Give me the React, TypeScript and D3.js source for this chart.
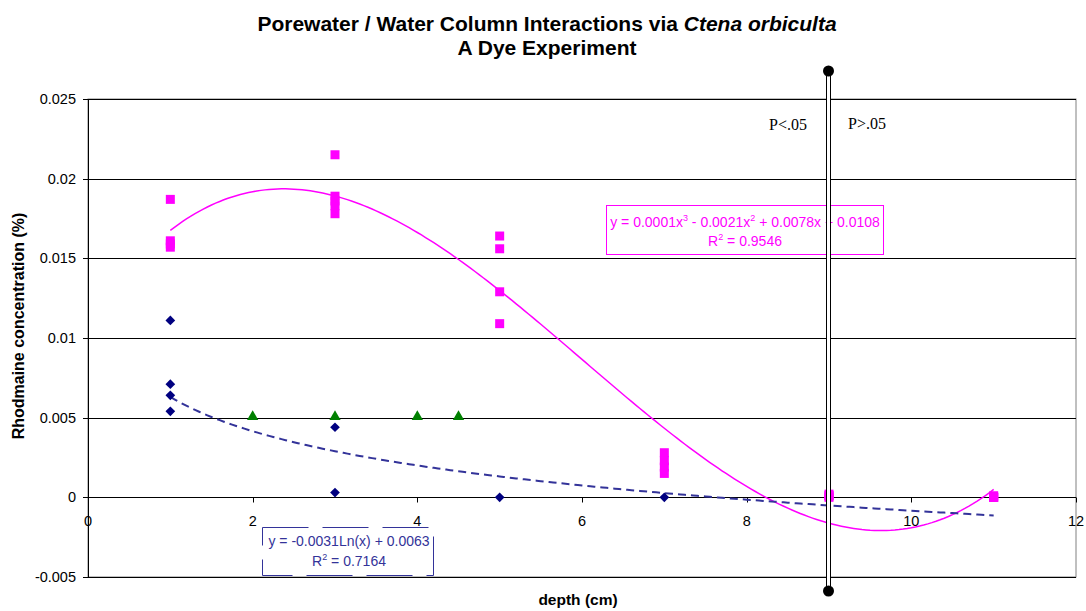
import React, { useRef, useEffect } from 'react';
import * as d3 from 'd3';

// pink squares (porewater), blue diamonds, green triangles
const pinkX = [1, 1, 1, 1, 3, 3, 3, 3, 3, 5, 5, 5, 5, 7, 7, 7, 7, 9, 9, 9, 9, 11, 11, 11, 11];
const pinkY = [0.0187, 0.0161, 0.0159, 0.0157, 0.0215, 0.0189, 0.0186, 0.0183, 0.0178,
  0.0164, 0.0156, 0.0129, 0.0109, 0.0028, 0.0023, 0.0019, 0.0015,
  0.0002, 0.0001, 0.0001, 0.0, 0.0001, 0.0, 0.0, 0.0];
const blueX = [1, 1, 1, 1, 3, 3, 5, 7];
const blueY = [0.0111, 0.0071, 0.0064, 0.0054, 0.0044, 0.0003, 0.0, 0.0];
const greenX = [2, 3, 4, 4.5];
const greenY = [0.005, 0.005, 0.005, 0.005];

// log trendline as given in the chart label
const logSlope = -0.0031;
const logIntercept = 0.0063;

const xTicks = [0, 2, 4, 6, 8, 10, 12];
const yTicks = [-0.005, 0, 0.005, 0.01, 0.015, 0.02, 0.025];

// least squares cubic fit (Excel polynomial trendline)
function cubicFit(xs: number[], ys: number[]): number[] {
  const n = 4;
  const A: number[][] = [];
  for (let i = 0; i < n; i++) {
    A.push(new Array(n + 1).fill(0));
    for (let j = 0; j < n; j++) {
      A[i][j] = d3.sum(xs, x => Math.pow(x, i + j));
    }
    A[i][n] = d3.sum(xs, (x, k) => Math.pow(x, i) * ys[k]);
  }
  for (let c = 0; c < n; c++) {
    let p = c;
    for (let r = c + 1; r < n; r++) if (Math.abs(A[r][c]) > Math.abs(A[p][c])) p = r;
    [A[c], A[p]] = [A[p], A[c]];
    for (let r = 0; r < n; r++) {
      if (r === c) continue;
      const f = A[r][c] / A[c][c];
      for (let k = c; k <= n; k++) A[r][k] -= f * A[c][k];
    }
  }
  return A.map((row, i) => row[n] / row[i]);
}

const App: React.FC = () => {
  const svgRef = useRef<SVGSVGElement>(null);

  useEffect(() => {
    document.body.style.margin = '0';
    if (!svgRef.current) return;
    const svg = d3.select(svgRef.current);
    svg.selectAll('*').remove();

    const left = 88, right = 1076, top = 99, bottom = 577;
    const x = d3.scaleLinear().domain([0, 12]).range([left, right]);
    const y = d3.scaleLinear().domain([-0.005, 0.025]).range([bottom, top]);
    const font = 'Arial, "Liberation Sans", sans-serif';
    const serif = '"Liberation Serif", "Times New Roman", serif';

    // plot area border
    svg.append('rect')
      .attr('x', left).attr('y', top)
      .attr('width', right - left).attr('height', bottom - top)
      .attr('fill', 'none').attr('stroke', '#808080').attr('stroke-width', 1);

    // gridlines
    svg.append('g').selectAll('line').data(yTicks).enter().append('line')
      .attr('x1', left).attr('x2', right)
      .attr('y1', d => Math.round(y(d)) + 0.5).attr('y2', d => Math.round(y(d)) + 0.5)
      .attr('stroke', '#000').attr('stroke-width', 1);

    // y axis
    svg.append('line')
      .attr('x1', left + 0.5).attr('x2', left + 0.5).attr('y1', top).attr('y2', bottom)
      .attr('stroke', '#000');
    svg.append('g').selectAll('line').data(yTicks).enter().append('line')
      .attr('x1', left - 5).attr('x2', left)
      .attr('y1', d => Math.round(y(d)) + 0.5).attr('y2', d => Math.round(y(d)) + 0.5)
      .attr('stroke', '#000');
    svg.append('g').selectAll('text').data(yTicks).enter().append('text')
      .attr('x', left - 12).attr('y', d => y(d) + 5)
      .attr('text-anchor', 'end').attr('font-family', font).attr('font-size', 14.5)
      .text(d => d === 0 ? '0' : String(+d.toFixed(3)));

    // x axis at y = 0
    const y0 = Math.round(y(0)) + 0.5;
    svg.append('g').selectAll('line').data(xTicks).enter().append('line')
      .attr('x1', d => Math.round(x(d)) + 0.5).attr('x2', d => Math.round(x(d)) + 0.5)
      .attr('y1', y0).attr('y2', y0 + 5)
      .attr('stroke', '#000');
    svg.append('g').selectAll('text').data(xTicks).enter().append('text')
      .attr('x', d => x(d)).attr('y', y0 + 28)
      .attr('text-anchor', 'middle').attr('font-family', font).attr('font-size', 14.5)
      .text(d => String(d));

    // trendlines
    const coef = cubicFit(pinkX, pinkY);
    const xs = d3.range(1, 11.001, 0.05);
    const line = d3.line<number[]>().x(d => x(d[0])).y(d => y(d[1]));
    svg.append('path')
      .attr('d', line(xs.map(v => [v, coef[0] + coef[1] * v + coef[2] * v * v + coef[3] * v * v * v])))
      .attr('fill', 'none').attr('stroke', '#FF00FF').attr('stroke-width', 1.5);
    svg.append('path')
      .attr('d', line(xs.map(v => [v, logSlope * Math.log(v) + logIntercept])))
      .attr('fill', 'none').attr('stroke', '#333399').attr('stroke-width', 2)
      .attr('stroke-dasharray', '8,5');

    // markers
    const pts = (xa: number[], ya: number[]) => xa.map((v, i) => [v, ya[i]]);
    svg.append('g').selectAll('rect').data(pts(pinkX, pinkY)).enter().append('rect')
      .attr('x', d => x(d[0]) - 4.5).attr('y', d => y(d[1]) - 4.5)
      .attr('width', 9).attr('height', 9).attr('fill', '#FF00FF');
    const diamond = d3.symbol().type(d3.symbolDiamond2).size(60);
    svg.append('g').selectAll('path').data(pts(blueX, blueY)).enter().append('path')
      .attr('d', diamond)
      .attr('transform', d => `translate(${x(d[0])},${y(d[1])})`)
      .attr('fill', '#000080');
    const tri = d3.symbol().type(d3.symbolTriangle).size(55);
    svg.append('g').selectAll('path').data(pts(greenX, greenY)).enter().append('path')
      .attr('d', tri)
      .attr('transform', d => `translate(${x(d[0])},${y(d[1]) - 1})`)
      .attr('fill', '#008000');

    // trendline labels
    const pinkBox = svg.append('g');
    pinkBox.append('rect')
      .attr('x', 606.5).attr('y', 205.5).attr('width', 277).attr('height', 49)
      .attr('fill', '#fff').attr('stroke', '#FF00FF').attr('stroke-width', 1);
    const pt = pinkBox.append('text')
      .attr('x', 745).attr('y', 227).attr('text-anchor', 'middle')
      .attr('font-family', font).attr('font-size', 14).attr('fill', '#FF00FF');
    pt.append('tspan').text('y = 0.0001x');
    pt.append('tspan').attr('dy', -6).attr('font-size', 9).text('3');
    pt.append('tspan').attr('dy', 6).text(' - 0.0021x');
    pt.append('tspan').attr('dy', -6).attr('font-size', 9).text('2');
    pt.append('tspan').attr('dy', 6).text(' + 0.0078x + 0.0108');
    const pr = pinkBox.append('text')
      .attr('x', 745).attr('y', 246).attr('text-anchor', 'middle')
      .attr('font-family', font).attr('font-size', 14).attr('fill', '#FF00FF');
    pr.append('tspan').text('R');
    pr.append('tspan').attr('dy', -6).attr('font-size', 9).text('2');
    pr.append('tspan').attr('dy', 6).text(' = 0.9546');

    const blueBox = svg.append('g');
    blueBox.append('rect')
      .attr('x', 262.5).attr('y', 527.5).attr('width', 171).attr('height', 48)
      .attr('fill', '#fff').attr('stroke', '#333399').attr('stroke-width', 1)
      .attr('stroke-dasharray', '46,14');
    blueBox.append('text')
      .attr('x', 349).attr('y', 546).attr('text-anchor', 'middle')
      .attr('font-family', font).attr('font-size', 14).attr('fill', '#333399')
      .text('y = -0.0031Ln(x) + 0.0063');
    const br = blueBox.append('text')
      .attr('x', 349).attr('y', 566).attr('text-anchor', 'middle')
      .attr('font-family', font).attr('font-size', 14).attr('fill', '#333399');
    br.append('tspan').text('R');
    br.append('tspan').attr('dy', -6).attr('font-size', 9).text('2');
    br.append('tspan').attr('dy', 6).text(' = 0.7164');

    // significance divider at depth 9
    const xv = x(9) - 0.5;
    const sig = svg.append('g');
    sig.append('rect')
      .attr('x', xv - 2).attr('y', 71).attr('width', 4).attr('height', 520)
      .attr('fill', '#fff').attr('stroke', '#000').attr('stroke-width', 1);
    sig.append('circle').attr('cx', xv).attr('cy', 71).attr('r', 5.5).attr('fill', '#000');
    sig.append('circle').attr('cx', xv).attr('cy', 591).attr('r', 5.5).attr('fill', '#000');
    sig.append('text').attr('x', 788).attr('y', 130).attr('text-anchor', 'middle')
      .attr('font-family', serif).attr('font-size', 16)
      .text('P<.05');
    sig.append('text').attr('x', 867).attr('y', 129).attr('text-anchor', 'middle')
      .attr('font-family', serif).attr('font-size', 16)
      .text('P>.05');

    // titles
    const t1 = svg.append('text')
      .attr('x', 547).attr('y', 31).attr('text-anchor', 'middle')
      .attr('font-family', font).attr('font-size', 21).attr('font-weight', 'bold');
    t1.append('tspan').text('Porewater / Water Column Interactions via ');
    t1.append('tspan').attr('font-style', 'italic').text('Ctena orbiculta');
    svg.append('text')
      .attr('x', 547).attr('y', 55).attr('text-anchor', 'middle')
      .attr('font-family', font).attr('font-size', 21).attr('font-weight', 'bold')
      .text('A Dye Experiment');

    svg.append('text')
      .attr('x', 578).attr('y', 605).attr('text-anchor', 'middle')
      .attr('font-family', font).attr('font-size', 15.5).attr('font-weight', 'bold')
      .text('depth (cm)');
    svg.append('text')
      .attr('transform', `translate(24,326) rotate(-90)`)
      .attr('text-anchor', 'middle')
      .attr('font-family', font).attr('font-size', 16).attr('font-weight', 'bold')
      .text('Rhodmaine concentration (%)');
  }, []);

  return <svg ref={svgRef} width={1086} height={611} style={{ display: 'block' }}></svg>;
};

export default App;
